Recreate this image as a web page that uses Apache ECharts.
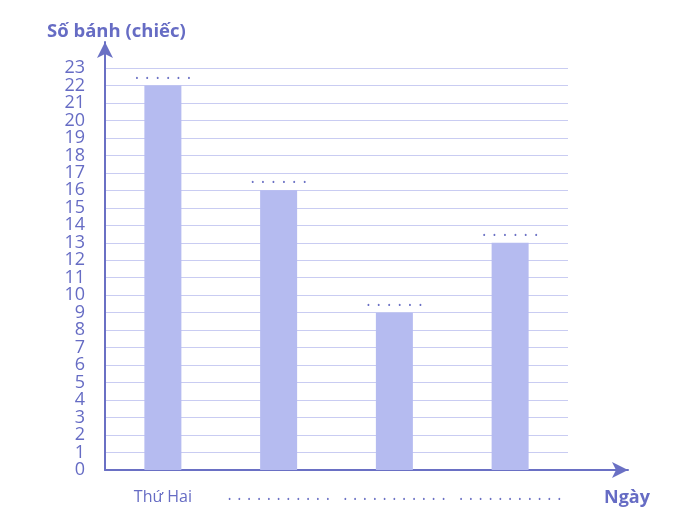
<!DOCTYPE html>
<html>
<head>
<meta charset="utf-8">
<script src="https://cdn.jsdelivr.net/npm/echarts@6/dist/echarts.min.js"></script>
<style>html,body{margin:0;padding:0;background:#fff}#c{width:695px;height:519px}</style>
</head>
<body>
<div id="c"></div>
<script>
const categories = ['Thứ Hai', '•   •   •   •   •   •   •   •   •   •   •', '•   •   •   •   •   •   •   •   •   •   •', '•   •   •   •   •   •   •   •   •   •   •'];
const values = [22, 16, 9, 13];
const yTicks = { min: 0, max: 23, interval: 1 };
const yTickLabels = ['0', '1', '2', '3', '4', '5', '6', '7', '8', '9', '10', '11', '12', '13', '14', '15', '16', '17', '18', '19', '20', '21', '22', '23'];
const yTitle = 'Số bánh (chiếc)';
const xTitle = 'Ngày';

const axisColor = '#6a70c4';
const textColor = '#666cc4';
const barColor = '#b5bbf0';
const gridColor = '#c9ccf2';
const font = 'Open Sans';

const chart = echarts.init(document.getElementById('c'));
chart.setOption({
  animation: false,
  title: [
    { text: yTitle, left: 42, top: 17, textStyle: { color: textColor, fontSize: 18.5, fontWeight: 'bold', fontFamily: font } },
    { text: xTitle, left: 599, top: 484, textStyle: { color: textColor, fontSize: 18, fontWeight: 'bold', fontFamily: font } }
  ],
  grid: [
    { left: 105, right: 127, top: 68, bottom: 49 },
    { left: 105, right: 67, top: 42, bottom: 49 }
  ],
  xAxis: [
    {
      type: 'category', gridIndex: 0, data: categories,
      axisLine: { show: false }, axisTick: { show: false },
      axisLabel: {
        interval: 0,
        color: textColor, fontSize: 16, fontFamily: font, margin: 19,
        formatter: function (v) { return v.charAt(0) === '•' ? '{d|' + v + '}' : v; },
        rich: { d: { fontSize: 8.5, fontFamily: font, color: axisColor, padding: [6, 0, 0, 0] } }
      }
    },
    {
      type: 'value', gridIndex: 1, min: 0, max: 1,
      axisLine: { show: true, lineStyle: { color: axisColor, width: 2 }, symbol: ['none', 'arrow'], symbolSize: [12, 16] },
      axisTick: { show: false }, axisLabel: { show: false }, splitLine: { show: false }
    }
  ],
  yAxis: [
    {
      type: 'value', gridIndex: 0, min: yTicks.min, max: yTicks.max, interval: yTicks.interval,
      axisLine: { show: false }, axisTick: { show: false },
      axisLabel: { show: false },
      splitLine: { show: true, lineStyle: { color: gridColor, width: 1 } }
    },
    {
      type: 'value', gridIndex: 1, min: 0, max: 1,
      axisLine: { show: true, lineStyle: { color: axisColor, width: 2 }, symbol: ['none', 'arrow'], symbolSize: [12, 16] },
      axisTick: { show: false }, axisLabel: { show: false }, splitLine: { show: false }
    },
    {
      type: 'category', gridIndex: 0, data: yTickLabels, boundaryGap: false, position: 'left',
      axisLine: { show: false }, axisTick: { show: false }, splitLine: { show: false },
      axisLabel: { interval: 0, color: textColor, fontSize: 18, fontFamily: font, margin: 20 }
    }
  ],
  series: [
    {
      type: 'bar', xAxisIndex: 0, yAxisIndex: 0, data: values,
      barWidth: 37,
      itemStyle: { color: barColor },
      label: {
        show: true, position: 'top', distance: 3,
        formatter: '•   •   •   •   •   •',
        color: axisColor, fontSize: 9, fontFamily: font
      }
    }
  ]
});
</script>
</body>
</html>
